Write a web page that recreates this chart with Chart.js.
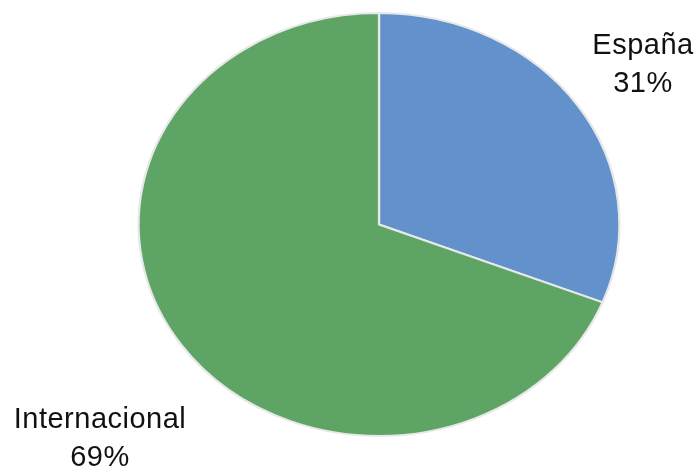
<!DOCTYPE html>
<html>
<head>
<meta charset="utf-8">
<script src="https://cdn.jsdelivr.net/npm/chart.js@4.4.0/dist/chart.umd.min.js"></script>
<style>
  html, body{ margin:0; padding:0; background:#fff; }
  #wrap{ width:698px; height:469px; position:relative; }
</style>
</head>
<body>
<div id="wrap"><canvas id="pie"></canvas></div>
<script>
var labels=["España", "Internacional"];
var values=[31, 69];
var colors=["#6391cb", "#5ea465"];

// where each label block is centred (pixels), same order as labels
var labelPos=[[643, 65], [100, 439]];
// pie is an ellipse in the original: horizontal stretch factor
var stretchX=241/212;

var ellipse={
  id: "ellipse",
  beforeDatasetsDraw: function(chart){
    var a=chart.chartArea;
    var cx=(a.left+a.right)/2, cy=(a.top+a.bottom)/2;
    var ctx=chart.ctx;
    ctx.save();
    ctx.translate(cx, cy);
    ctx.scale(stretchX, 1);
    ctx.translate(-cx, -cy);
  },
  afterDatasetsDraw: function(chart){
    chart.ctx.restore();
  }
};

var pieLabels={
  id: "pieLabels",
  afterDraw: function(chart){
    var ctx=chart.ctx;
    var total=values.reduce(function(s, v){ return s+v; }, 0);
    ctx.save();
    ctx.font="29px 'Liberation Sans', Arial, sans-serif";
    ctx.letterSpacing="0.5px";
    ctx.fillStyle="#111111";
    ctx.textAlign="center";
    ctx.textBaseline="middle";
    labels.forEach(function(l, i){
      var p=labelPos[i];
      ctx.fillText(l, p[0], p[1]-19);
      ctx.fillText(Math.round(values[i]/total*100)+"%", p[0], p[1]+19);
    });
    ctx.restore();
  }
};

new Chart(document.getElementById("pie").getContext("2d"), {
  type: "pie",
  data: {
    labels: labels,
    datasets: [{
      data: values,
      backgroundColor: colors,
      borderColor: "#e8e8e8",
      borderWidth: 2
    }]
  },
  options: {
    responsive: true,
    maintainAspectRatio: false,
    animation: false,
    layout: { padding: { top: 12, bottom: 32, left: 60, right: 0 } },
    plugins: {
      legend: { display: false },
      tooltip: { enabled: false }
    }
  },
  plugins: [ellipse, pieLabels]
});
</script>
</body>
</html>
